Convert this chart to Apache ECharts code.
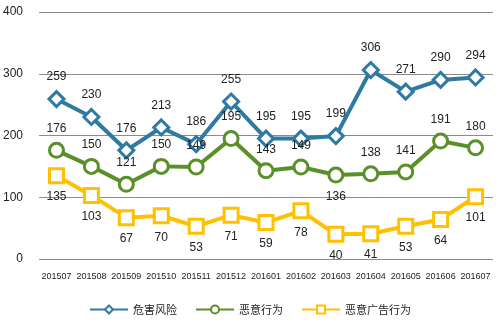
<!DOCTYPE html>
<html>
<head>
<meta charset="utf-8">
<script src="https://cdn.jsdelivr.net/npm/echarts@6/dist/echarts.min.js"></script>
<style>
html,body{margin:0;padding:0;background:#fff;}
#chart{width:500px;height:324px;}
</style>
</head>
<body>
<div id="chart"></div>
<script>
// Monthly counts per category
const months = ['201507','201508','201509','201510','201511','201512','201601','201602','201603','201604','201605','201606','201607'];
const riskValues = [259, 230, 176, 213, 186, 255, 195, 195, 199, 306, 271, 290, 294];
const maliciousValues = [176, 150, 121, 150, 149, 195, 143, 149, 136, 138, 141, 191, 180];
const adValues = [135, 103, 67, 70, 53, 71, 59, 78, 40, 41, 53, 64, 101];
const yTicks = [0, 100, 200, 300, 400];

const labelFont = {fontFamily: 'Liberation Sans, Arial, sans-serif', fontSize: 12, color: '#222'};

function makeSeries(name, data, color, symbol, size, positions) {
  return {
    name: name,
    type: 'line',
    data: data.map((v, i) => ({value: v, label: {position: positions(i)}})),
    symbol: symbol,
    symbolSize: size,
    showAllSymbol: true,
    lineStyle: {color: color, width: 4},
    itemStyle: {color: '#fff', borderColor: color, borderWidth: 3},
    label: Object.assign({show: true, distance: 7}, labelFont),
    emphasis: {disabled: true},
    z: 3
  };
}

const chart = echarts.init(document.getElementById('chart'), null, {renderer: 'canvas'});
chart.setOption({
  animation: false,
  backgroundColor: '#fff',
  grid: {left: 37, right: 7, top: 12, bottom: 65},
  xAxis: {
    type: 'category',
    data: months,
    boundaryGap: true,
    axisLine: {show: false},
    axisTick: {show: false},
    axisLabel: {fontFamily: 'Liberation Sans, Arial, sans-serif', fontSize: 9, color: '#222', margin: 13, interval: 0}
  },
  yAxis: {
    type: 'value',
    min: yTicks[0],
    max: yTicks[yTicks.length - 1],
    interval: 100,
    axisLine: {show: false},
    axisTick: {show: false},
    axisLabel: {fontFamily: 'Liberation Sans, Arial, sans-serif', fontSize: 12, color: '#222', margin: 16},
    splitLine: {lineStyle: {color: '#8c8c8c', width: 1}}
  },
  legend: {
    bottom: 4,
    left: 'center',
    itemWidth: 38,
    itemHeight: 10,
    itemGap: 18,
    textStyle: {fontFamily: 'Noto Sans CJK SC, sans-serif', fontSize: 11, color: '#222'},
    data: ['危害风险', '恶意行为', '恶意广告行为']
  },
  series: [
    makeSeries('危害风险', riskValues, '#2e7aa0', 'diamond', 15, () => 'top'),
    makeSeries('恶意行为', maliciousValues, '#5a8f29', 'circle', 14, i => (i === 8 ? 'bottom' : 'top')),
    makeSeries('恶意广告行为', adValues, '#ffc000', 'rect', 14, () => 'bottom')
  ]
});
</script>
</body>
</html>
